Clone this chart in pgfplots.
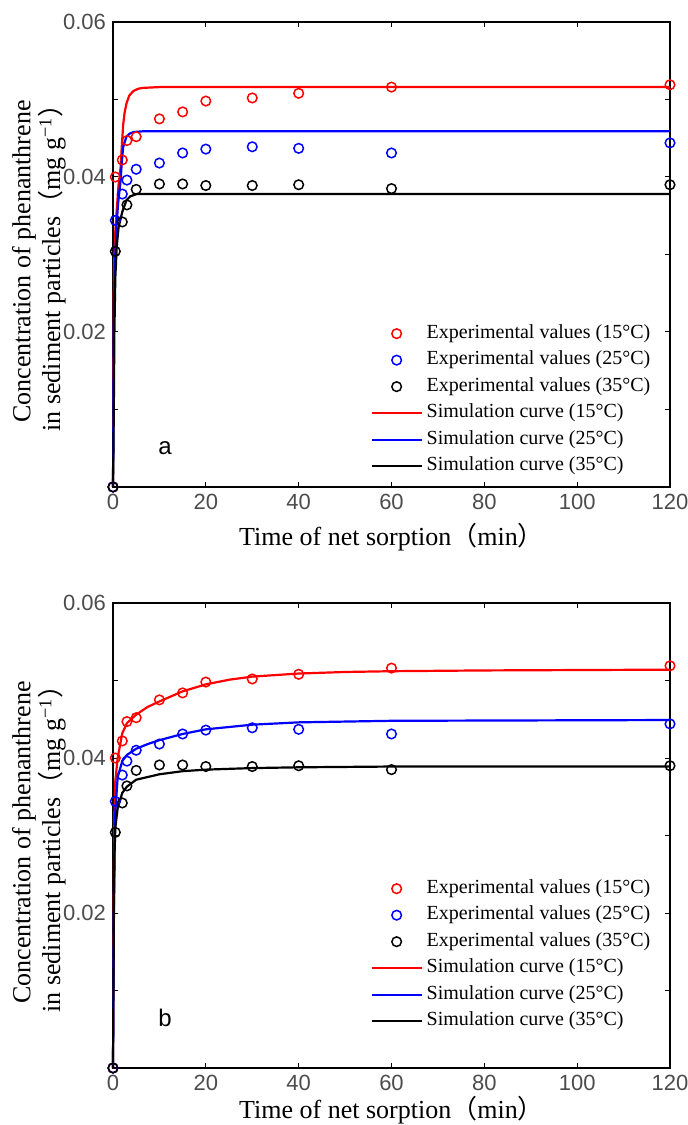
\documentclass[border=0pt]{standalone}
\usepackage{fontspec}
\setmainfont{Liberation Serif}
\newfontfamily\sansf{Liberation Sans}
\newfontfamily\cjk{Noto Sans CJK SC}
\usepackage{pgfplots}
\usepackage{pgfplotstable}
\pgfplotsset{compat=1.18}

\pgfplotstableread{
t r b k
0 0 0 0
0.5 0.0400 0.0344 0.0304
2 0.0422 0.0378 0.0342
3 0.0447 0.0396 0.0364
5 0.0452 0.0410 0.0384
10 0.0475 0.0418 0.0391
15 0.0484 0.0431 0.0391
20 0.0498 0.0436 0.0389
30 0.0502 0.0439 0.0389
40 0.0508 0.0437 0.0390
60 0.0516 0.0431 0.0385
120 0.0519 0.0444 0.0390
}\expdata

\pgfplotstableread{
t q
0 0
0.1 0.012
0.2 0.028
0.5 0.033
0.8 0.0357
1.2 0.0390
1.65 0.0413
1.9 0.0440
2.2 0.0468
2.5 0.0483
2.9 0.0495
3.5 0.0505
4.4 0.0511
5.5 0.0514
6.5 0.0515
10 0.0516
120 0.0516
}\simRa
\pgfplotstableread{
t q
0 0
0.1 0.010
0.2 0.0233
0.5 0.030
0.8 0.034
1.1 0.0366
1.65 0.0396
1.9 0.0420
2.2 0.0439
2.9 0.0452
3.6 0.0456
4.4 0.0458
6.5 0.0459
120 0.0459
}\simBa
\pgfplotstableread{
t q
0 0
0.1 0.005
0.2 0.012
0.3 0.020
0.5 0.027
0.8 0.031
1.2 0.0335
2 0.0355
2.9 0.0370
3.7 0.0375
5.1 0.0378
8 0.0378
120 0.0378
}\simKa

\pgfplotstableread{
t q
0 0
0.15 0.020
0.3 0.032
0.5 0.037
1 0.0400
2 0.0432
3 0.0445
5 0.0456
7.5 0.0466
10 0.0473
15 0.0486
20 0.0495
25 0.0501
30 0.0505
40 0.0509
50 0.0511
60 0.0512
80 0.0513
120 0.0514
}\simRb
\pgfplotstableread{
t q
0 0
0.15 0.018
0.3 0.028
0.5 0.033
1 0.0375
2 0.0396
3 0.0404
5 0.0412
7.5 0.0418
10 0.0423
15 0.0431
20 0.0437
30 0.0443
40 0.0446
60 0.0448
120 0.0449
}\simBb
\pgfplotstableread{
t q
0 0
0.1 0.010
0.2 0.020
0.35 0.028
0.5 0.031
1 0.0335
2 0.0355
3 0.0363
5 0.0372
10 0.0379
15 0.0383
20 0.0385
30 0.0387
40 0.0388
60 0.0389
120 0.0389
}\simKb

\pgfplotsset{
 panel/.style={
  scale only axis, width=278.5pt, height=232.5pt,
  xmin=0, xmax=120, ymin=0, ymax=0.06,
  scaled y ticks=false, scaled x ticks=false,
  xtick={0,20,40,60,80,100,120}, xticklabels={0,20,40,60,80,100,120},
  ytick={0,0.01,0.02,0.03,0.04,0.05,0.06}, yticklabels={,,0.02,,0.04,,0.06},
  tick align=inside, major tick length=2.5pt,
  tick style={black, line width=0.5pt},
  axis line style={line width=0.6pt},
  ticklabel style={font=\sansf\fontsize{11}{11}\selectfont, text=black!70},
  clip=false,
  every axis y label/.style={at={(axis description cs:-0.133,0.485)}, rotate=90, anchor=center, align=center, font=\fontsize{13}{11}\selectfont},
  every axis x label/.style={at={(axis description cs:0.5,0)}, anchor=center, font=\fontsize{13}{13}\selectfont},
  ylabel={Concentration of phenanthrene\\in sediment particles{\cjk （}mg g\textsuperscript{−1}{\cjk ）}},
  xlabel={Time of net sorption{\cjk （}min{\cjk ）}},
  legend cell align=left,
  legend style={draw=none, fill=none, inner sep=0pt, row sep=0pt,
    font=\fontsize{10}{10}\selectfont,
    nodes={inner sep=0pt, text height=9pt, text depth=4.25pt},
    /tikz/every odd column/.append style={column sep=2pt}},
  legend image code/.code={\draw[mark repeat=2,mark phase=2,#1] plot coordinates {(0pt,0pt)(12.5pt,0pt)(25pt,0pt)};},
 },
 expm/.style={only marks, mark=o, mark size=2.4pt, mark options={line width=0.75pt}},
 sim/.style={no marks, line width=1.1pt},
}

\begin{document}
\begin{tikzpicture}
\path[use as bounding box] (-56.5pt,243.5pt) rectangle (287.5pt,-319pt);
\begin{axis}[panel, at={(0pt,0pt)}, anchor=south west,
  xlabel style={yshift=-25pt},
  legend style={at={(axis cs:55.4,0.02155)}, anchor=north west}]
\addplot[expm, red] table[x=t, y=r] {\expdata};
\addlegendentry{Experimental values (15°C)}
\addplot[expm, blue] table[x=t, y=b] {\expdata};
\addlegendentry{Experimental values (25°C)}
\addplot[expm, black] table[x=t, y=k] {\expdata};
\addlegendentry{Experimental values (35°C)}
\addplot[sim, red] table[x=t, y=q] {\simRa};
\addlegendentry{Simulation curve (15°C)}
\addplot[sim, blue] table[x=t, y=q] {\simBa};
\addlegendentry{Simulation curve (25°C)}
\addplot[sim, black] table[x=t, y=q] {\simKa};
\addlegendentry{Simulation curve (35°C)}
\node[font=\sansf\fontsize{12}{12}\selectfont] at (axis cs:11.2,0.005) {a};
\end{axis}
\begin{axis}[panel, at={(0pt,-290.5pt)}, anchor=south west,
  xlabel style={yshift=-21pt},
  legend style={at={(axis cs:55.4,0.0249)}, anchor=north west}]
\addplot[expm, red] table[x=t, y=r] {\expdata};
\addlegendentry{Experimental values (15°C)}
\addplot[expm, blue] table[x=t, y=b] {\expdata};
\addlegendentry{Experimental values (25°C)}
\addplot[expm, black] table[x=t, y=k] {\expdata};
\addlegendentry{Experimental values (35°C)}
\addplot[sim, red] table[x=t, y=q] {\simRb};
\addlegendentry{Simulation curve (15°C)}
\addplot[sim, blue] table[x=t, y=q] {\simBb};
\addlegendentry{Simulation curve (25°C)}
\addplot[sim, black] table[x=t, y=q] {\simKb};
\addlegendentry{Simulation curve (35°C)}
\node[font=\sansf\fontsize{12}{12}\selectfont] at (axis cs:11.2,0.00645) {b};
\end{axis}
\end{tikzpicture}
\end{document}
